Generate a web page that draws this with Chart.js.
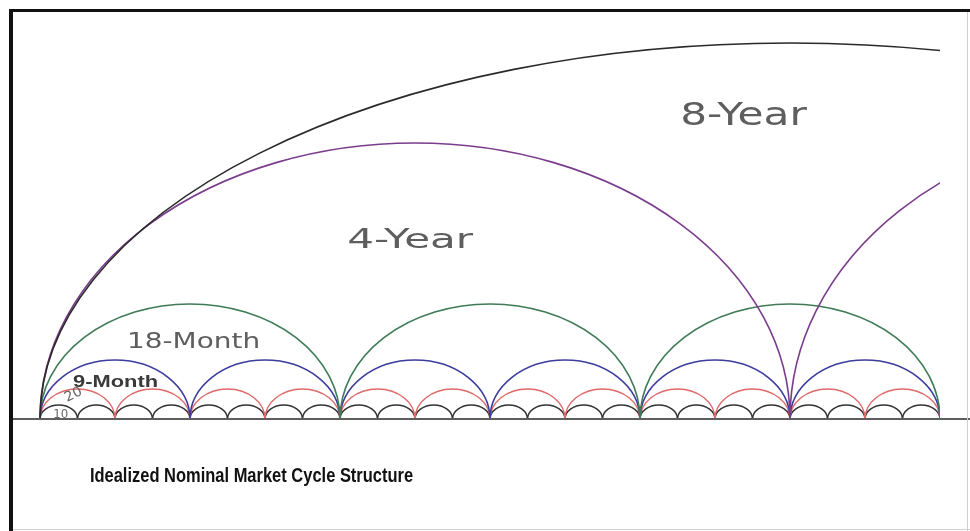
<!DOCTYPE html>
<html><head><meta charset="utf-8">
<script src="https://cdn.jsdelivr.net/npm/chart.js@4.4.0/dist/chart.umd.min.js"></script>
<style>html,body{margin:0;padding:0;background:#fff;overflow:hidden}canvas{display:block}</style>
</head><body>
<canvas id="c" width="970" height="531" style="width:970px;height:531px"></canvas>
<script>
// ---- data (time in weeks, amplitude in relative units) ----
const cycleNames = ['10-Week', '20-Week', '9-Month', '18-Month', '4-Year', '8-Year'];
const troughs10wk = [0,10,20,30,40,50,60,70,80,90,100,110,120,130,140,150,160,170,180,190,200,210,220,230,240];
const troughs20wk = [0,20,40,60,80,100,120,140,160,180,200,220,240];
const troughs9mo  = [0,40,80,120,160,200,240];
const troughs18mo = [0,80,160,240];
const troughs4yr  = [0,200,400];
const troughs8yr  = [0,400];
const peaks10wk = [14];
const peaks20wk = [30];
const peaks9mo  = [59];
const peaks18mo = [115];
const peaks4yr  = [276, 295];
const peaks8yr  = [376];
const chartEndWeek = 240;
const labelTexts = ['8-Year', '4-Year', '18-Month', '9-Month', '20', '10'];
const titleText = 'Idealized Nominal Market Cycle Structure';

// ---- styles ----
const cycleColors = ['#333333', '#e06a6a', '#3d3d9e', '#3f7b57', '#7a3c8c', '#2a2a2a'];
const cycleWidths = [1.5, 1.5, 1.6, 1.6, 1.6, 1.6];
// label placement: [leftWeek, rightWeek, baselineValue, capPx, weight, color, rotation, family]
const labelFamily = '"DejaVu Sans", sans-serif';
const boldFamily = '"Liberation Sans", Arial, sans-serif';
const labelPlacement = [
  [170.7, 204.5, 294, 23, 'normal', '#5e5e5e', 0, labelFamily],
  [81.9, 115.5, 171, 19, 'normal', '#5e5e5e', 0, labelFamily],
  [23.2, 58.7, 71, 16, 'normal', '#5e5e5e', 0, labelFamily],
  [8.8, 31.5, 32, 12, 'bold', '#3a3a3a', 0, boldFamily],
  [7.2, 12.0, 17, 10, 'normal', '#666', -0.45, labelFamily],
  [3.5, 7.5, 1, 9, 'normal', '#666', 0, labelFamily]
];
const titlePlacement = [13.3, 99.5, -63, 15];

function arcPoints(troughs, peaks) {
  const pts = [];
  for (let i = 0; i < troughs.length; i++) {
    pts.push({x: troughs[i], y: 0});
    if (i < troughs.length - 1) {
      pts.push({x: (troughs[i] + troughs[i + 1]) / 2, y: peaks[Math.min(i, peaks.length - 1)]});
    }
  }
  return pts;
}
const cycleTroughs = [troughs10wk, troughs20wk, troughs9mo, troughs18mo, troughs4yr, troughs8yr];
const cyclePeaks = [peaks10wk, peaks20wk, peaks9mo, peaks18mo, peaks4yr, peaks8yr];

const datasets = cycleNames.map((name, i) => ({
  label: name,
  data: arcPoints(cycleTroughs[i], cyclePeaks[i]),
  showLine: false,
  pointRadius: 0,
  borderColor: cycleColors[i],
  borderWidth: cycleWidths[i],
  arcs: true
}));

const framePlugin = {
  id: 'frame',
  afterDraw(chart) {
    const ctx = chart.ctx, ys = chart.scales.y;
    ctx.save();
    const y0 = ys.getPixelForValue(0);
    ctx.fillStyle = '#5e5e5e';
    ctx.fillRect(13, y0 - 1, 957, 2);
    ctx.fillStyle = '#cfcfcf';
    ctx.fillRect(967, 10, 1, 521);
    ctx.fillRect(10, 529, 960, 1);
    ctx.fillStyle = '#111';
    ctx.fillRect(9, 9, 961, 3);
    ctx.fillRect(9, 9, 4, 522);
    ctx.restore();
  }
};

const arcPlugin = {
  id: 'arcs',
  afterDatasetsDraw(chart) {
    const ctx = chart.ctx, xs = chart.scales.x, ys = chart.scales.y, ca = chart.chartArea;
    const right = xs.getPixelForValue(chartEndWeek);
    ctx.save();
    ctx.beginPath();
    ctx.rect(ca.left, ca.top, right - ca.left, ca.bottom - ca.top);
    ctx.clip();
    chart.data.datasets.forEach(ds => {
      if (!ds.arcs) return;
      ctx.strokeStyle = ds.borderColor;
      ctx.lineWidth = ds.borderWidth;
      const d = ds.data;
      for (let i = 0; i + 2 < d.length; i += 2) {
        const ax = xs.getPixelForValue(d[i].x), ay = ys.getPixelForValue(d[i].y);
        const px = xs.getPixelForValue(d[i + 1].x), py = ys.getPixelForValue(d[i + 1].y);
        const bx = xs.getPixelForValue(d[i + 2].x);
        ctx.beginPath();
        ctx.ellipse(px, ay, (bx - ax) / 2, ay - py, 0, Math.PI, 2 * Math.PI);
        ctx.stroke();
      }
    });
    ctx.restore();
  }
};

function fitText(ctx, text, x0, x1, yb, cap, weight, family, color, rot) {
  const size = cap / 0.73;
  ctx.save();
  ctx.font = weight + ' ' + size + 'px ' + family;
  const w = ctx.measureText(text).width;
  ctx.translate(x0, yb);
  if (rot) ctx.rotate(rot);
  ctx.scale((x1 - x0) / w, 1);
  ctx.fillStyle = color;
  ctx.textAlign = 'left';
  ctx.textBaseline = 'alphabetic';
  ctx.fillText(text, 0, 0);
  ctx.restore();
}

const textPlugin = {
  id: 'texts',
  afterDraw(chart) {
    const ctx = chart.ctx, xs = chart.scales.x, ys = chart.scales.y;
    labelTexts.forEach((t, i) => {
      const p = labelPlacement[i];
      fitText(ctx, t, xs.getPixelForValue(p[0]), xs.getPixelForValue(p[1]), ys.getPixelForValue(p[2]),
        p[3], p[4], p[7], p[5], p[6]);
    });
    const tp = titlePlacement;
    fitText(ctx, titleText, xs.getPixelForValue(tp[0]), xs.getPixelForValue(tp[1]), ys.getPixelForValue(tp[2]),
      tp[3], 'bold', boldFamily, '#111', 0);
  }
};

new Chart(document.getElementById('c'), {
  type: 'scatter',
  data: { datasets },
  options: {
    responsive: false,
    animation: false,
    events: [],
    devicePixelRatio: 1,
    layout: { padding: { left: 10, right: 0, top: 10, bottom: 0 } },
    plugins: { legend: { display: false }, tooltip: { enabled: false }, title: { display: false } },
    scales: {
      x: { type: 'linear', min: -8, max: 248, display: false },
      y: { type: 'linear', min: -112, max: 409, display: false }
    }
  },
  plugins: [arcPlugin, framePlugin, textPlugin]
});
</script>
</body></html>
